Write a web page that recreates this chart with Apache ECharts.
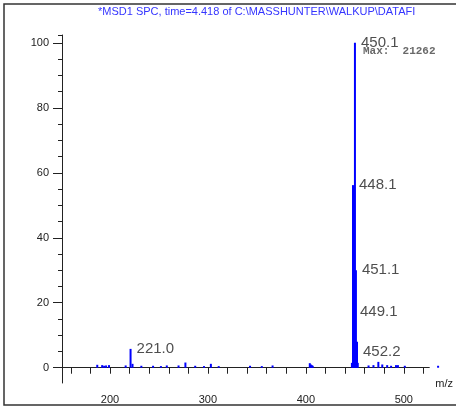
<!DOCTYPE html>
<html>
<head>
<meta charset="utf-8">
<script src="https://cdn.jsdelivr.net/npm/echarts@6/dist/echarts.min.js"></script>
<style>html,body{margin:0;padding:0;background:#fff;}#c{width:456px;height:407px;}</style>
</head>
<body>
<div id="c"></div>
<script>
// ---- data ----
var titleText = '*MSD1 SPC, time=4.418 of C:\\MASSHUNTER\\WALKUP\\DATAFI';
var mzValues = [187, 192, 194, 196, 199, 216, 221.0, 223, 232, 244, 252, 258, 270, 277, 287, 296, 303, 311, 343, 355, 366,
  404, 405, 406, 407, 447, 448.1, 449.1, 450.1, 451.1, 452.2, 453, 464, 469, 474, 478, 483, 487, 492, 494, 501, 535];
var intensities = [0.9, 0.8, 0.6, 0.7, 0.8, 0.7, 5.8, 1.2, 0.6, 0.6, 0.5, 0.7, 0.7, 1.6, 0.6, 0.5, 1.2, 0.5, 0.6, 0.5, 0.7,
  1.4, 1.0, 0.8, 0.6, 1.5, 56.2, 17.2, 100, 30, 8, 1.5, 0.7, 0.8, 1.8, 1.0, 0.8, 0.6, 0.8, 0.8, 0.6, 0.6];
var labelMz = [221.0, 448.1, 449.1, 450.1, 451.1, 452.2];
var labelTexts = ['221.0', '448.1', '449.1', '450.1', '451.1', '452.2'];
var labelInt = [5.8, 56.2, 17.2, 100, 30, 5];
var maxText = 'Max:  21262';
var xTicks = [160, 180, 200, 220, 240, 260, 280, 300, 320, 340, 360, 380, 400, 420, 440, 460, 480, 500, 520];
var xTickLabels = [200, 300, 400, 500];
var yTickLabels = [0, 20, 40, 60, 80, 100];
var yMinorTicks = [5, 10, 15, 25, 30, 35, 45, 50, 55, 65, 70, 75, 85, 90, 95, 102.4];

var chart = echarts.init(document.getElementById('c'));
var barData = mzValues.map(function (m, i) { return [m, intensities[i]]; });
var lblData = labelMz.map(function (m, i) { return { value: [m, labelInt[i]], name: labelTexts[i] }; });

chart.setOption({
  animation: false,
  backgroundColor: '#fff',
  graphic: [
    { type: 'rect', shape: { x: 4, y: 4, width: 480, height: 401 }, style: { fill: 'none', stroke: '#333', lineWidth: 1.5 }, z: 100 },
    { type: 'text', left: 98, top: 6, style: { text: titleText, fill: '#3535ff', font: '11px "Liberation Sans", Arial, sans-serif' } }
  ],
  grid: { left: 62, right: 24.6, top: 35, bottom: 24 },
  xAxis: {
    type: 'value', min: 151, max: 526,
    name: 'm/z', nameLocation: 'end', nameGap: 6,
    nameTextStyle: { color: '#222', fontSize: 11, fontFamily: 'Liberation Sans', align: 'left', verticalAlign: 'top', padding: [11, 0, 0, 0] },
    axisLine: { show: true, lineStyle: { color: '#222', width: 1 } },
    axisTick: { show: true, customValues: xTicks, length: 6, lineStyle: { color: '#222' } },
    axisLabel: { customValues: xTickLabels, color: '#222', fontSize: 11, fontFamily: 'Liberation Sans', margin: 11 },
    splitLine: { show: false }
  },
  yAxis: [{
    type: 'value', min: -4.7, max: 102.4,
    axisLine: { show: true, lineStyle: { color: '#222', width: 1 } },
    axisTick: { show: true, customValues: yTickLabels, length: 9, lineStyle: { color: '#222' } },
    axisLabel: { customValues: yTickLabels, color: '#222', fontSize: 11, fontFamily: 'Liberation Sans', margin: 13 },
    splitLine: { show: false }
  }, {
    type: 'value', min: -4.7, max: 102.4, position: 'left',
    axisLine: { show: false },
    axisTick: { show: true, customValues: yMinorTicks, length: 4, lineStyle: { color: '#222' } },
    axisLabel: { show: false },
    splitLine: { show: false }
  }],
  series: [{
    type: 'bar', data: barData, barWidth: 2, clip: false, silent: true,
    itemStyle: { color: '#0000ff' }
  }, {
    type: 'scatter', data: lblData, symbolSize: 0, silent: true, clip: false,
    label: {
      show: true, position: 'right', distance: 6, formatter: '{b}',
      color: '#222', fontSize: 15, fontFamily: 'Liberation Sans'
    }
  }, {
    type: 'scatter', data: [[labelMz[3], labelInt[3]]], symbolSize: 0, silent: true, clip: false,
    label: {
      show: true, position: 'right', distance: 8, offset: [0, 8], formatter: maxText,
      color: '#444', fontSize: 11, fontWeight: 'bold', fontFamily: 'Liberation Mono'
    }
  }]
});
</script>
</body>
</html>
